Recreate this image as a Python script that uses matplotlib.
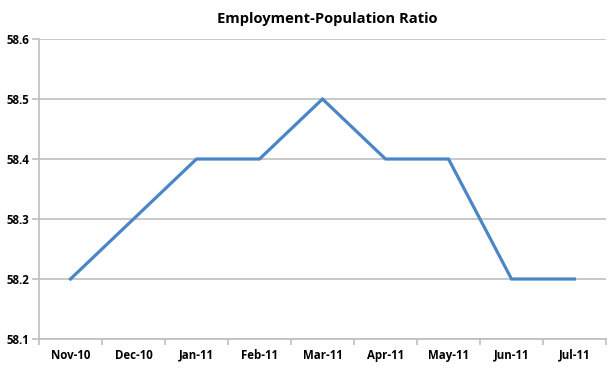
import matplotlib
matplotlib.use("Agg")
import matplotlib.pyplot as plt

categories = ["Nov-10", "Dec-10", "Jan-11", "Feb-11", "Mar-11", "Apr-11", "May-11", "Jun-11", "Jul-11"]
values = [58.2, 58.3, 58.4, 58.4, 58.5, 58.4, 58.4, 58.2, 58.2]
yticks = [58.1, 58.2, 58.3, 58.4, 58.5, 58.6]

plt.rcParams['font.family'] = ['Open Sans', 'DejaVu Sans']

fig = plt.figure(figsize=(6.14, 3.68), dpi=100)
ax = fig.add_axes([39/614, 1-339/368, (606-39)/614, (339-39)/368])

x = list(range(len(categories)))
ax.plot(x, values, color='#4A86C6', linewidth=2.3, solid_joinstyle='miter', zorder=3)

ax.set_xlim(-0.5, len(categories) - 0.5)
ax.set_ylim(58.1, 58.6)
ax.set_yticks(yticks)
ax.set_yticklabels([f"{v:.1f}" for v in yticks], fontsize=8.3, fontweight='bold')
ax.set_xticks(x)
ax.set_xticklabels(categories, fontsize=8.3, fontweight='bold')
ax.tick_params(axis='x', which='major', length=0, pad=7)
ax.set_xticks([i - 0.5 for i in range(len(categories) + 1)], minor=True)
ax.tick_params(axis='x', which='minor', length=4, width=1.2, color='#BFBFBF', direction='out')
ax.tick_params(axis='y', length=5, width=1.2, color='#BFBFBF', pad=2)

ax.grid(axis='y', color='#BFBFBF', linewidth=1.2)
ax.set_axisbelow(True)
for s in ['top', 'right']:
    ax.spines[s].set_visible(False)
for s in ['left', 'bottom']:
    ax.spines[s].set_color('#BFBFBF')
    ax.spines[s].set_linewidth(1.2)

fig.text(327/614, 1-19/368, "Employment-Population Ratio", ha='center', va='center',
         fontsize=10.6, fontweight='bold')

fig.savefig("out.png", dpi=100)
